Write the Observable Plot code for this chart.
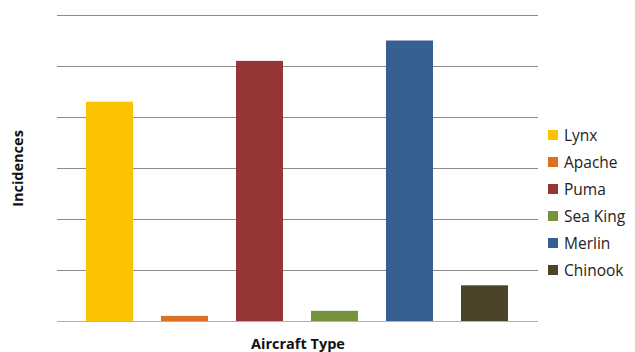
<!DOCTYPE html>
<html>
<head>
<meta charset="utf-8">
<script src="https://cdn.jsdelivr.net/npm/d3@7"></script>
<script src="https://cdn.jsdelivr.net/npm/@observablehq/plot@0.6"></script>
<style>
  body { margin: 0; background: #fff; }
  #wrap { position: relative; width: 635px; height: 352px; font-family: "Open Sans", "Liberation Sans", sans-serif; }
  #legend { position: absolute; left: 548px; top: 121px; font-size: 15.5px; color: #222; }
  #legend .item { display: flex; align-items: center; height: 27px; }
  #legend .sw { width: 10px; height: 10px; margin-right: 6px; }
</style>
</head>
<body>
<div id="wrap"></div>
<script>
const aircraft = ["Lynx", "Apache", "Puma", "Sea King", "Merlin", "Chinook"];
const incidences = [43, 1, 51, 2, 55, 7];
const colors = ["#FDC300", "#DA7020", "#943634", "#76923C", "#365F92", "#4B4428"];
const gridValues = [0, 10, 20, 30, 40, 50, 60];
const xTitle = "Aircraft Type";
const yTitle = "Incidences";

const data = aircraft.map((a, i) => ({aircraft: a, value: incidences[i]}));

const plot = Plot.plot({
  width: 635,
  height: 352,
  marginLeft: 57,
  marginRight: 97,
  marginTop: 15,
  marginBottom: 31,
  style: {fontFamily: "'Open Sans', 'Liberation Sans', sans-serif", fontSize: "14px", color: "#111"},
  x: {domain: aircraft, paddingInner: 0.37, paddingOuter: 0.35, axis: null},
  y: {domain: [0, 60], axis: null},
  color: {domain: aircraft, range: colors},
  marks: [
    Plot.ruleY(gridValues.slice(1), {stroke: "#8c8c8c", strokeWidth: 1}),
    Plot.barY(data, {x: "aircraft", y: "value", fill: "aircraft"}),
    Plot.ruleY([0], {stroke: "#b0b0b0", strokeWidth: 1}),
    Plot.text([yTitle], {frameAnchor: "left", dx: -39, rotate: -90, textAnchor: "middle", fontWeight: "bold", fontSize: 14.5, fill: "#111"}),
    Plot.text([xTitle], {frameAnchor: "bottom", dy: 27, fontWeight: "bold", fontSize: 14.5, fill: "#111"})
  ]
});
document.getElementById("wrap").appendChild(plot);

const color = plot.scale("color");
const legend = d3.select("#wrap").append("div").attr("id", "legend");
const items = legend.selectAll(".item").data(color.domain).join("div").attr("class", "item");
items.append("div").attr("class", "sw").style("background", d => color.apply(d));
items.append("span").text(d => d);
</script>
</body>
</html>
